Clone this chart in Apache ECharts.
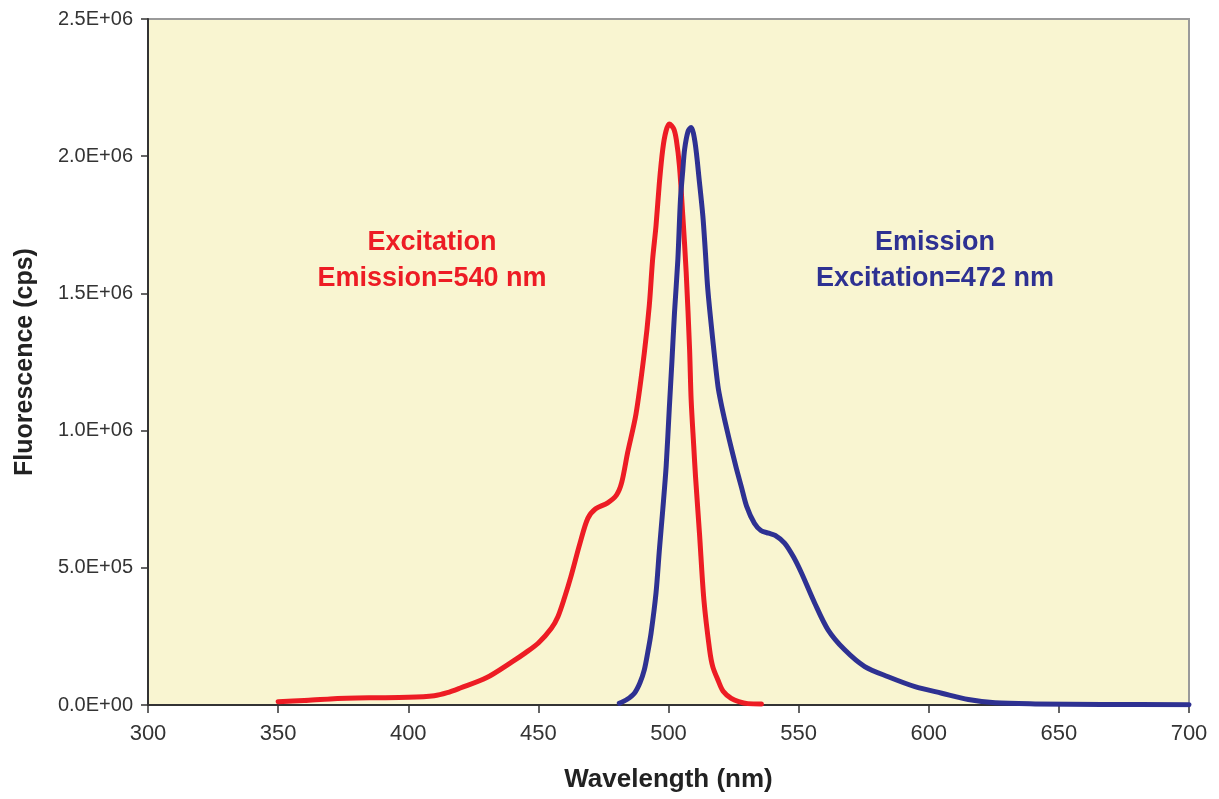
<!DOCTYPE html>
<html>
<head>
<meta charset="utf-8">
<script src="https://cdn.jsdelivr.net/npm/echarts@6/dist/echarts.min.js"></script>
<style>
html,body{margin:0;padding:0;background:#fff;}
#c{width:1219px;height:799px;}
</style>
</head>
<body>
<div id="c"></div>
<script>
// Excitation spectrum (emission monitored at 540 nm)
const excitationWavelength = [350,360,370,385,400,410,415,420,430,440,445,450,455,457.5,460,462.5,466,469,472,476.5,480,482,484.3,487.5,490.7,492.6,493.9,495.2,496.5,497.8,499,500.3,502,503,504.2,505.5,506.8,508.1,508.7,509.7,510.4,511.9,513.6,515.8,517,519,521,524.1,527,530.5,535.7];
const excitationValue = [12000,16000,22000,26000,28000,34000,45000,62000,99000,158000,190000,226000,280000,322000,390000,468000,590000,680000,715000,736000,765000,810000,920000,1060000,1283000,1454000,1624000,1746000,1904000,2026000,2090000,2117000,2100000,2060000,1965000,1782000,1576000,1296000,1113000,943000,830000,626000,383000,201000,140000,91000,50000,24000,12000,5000,4000];

// Emission spectrum (excitation at 472 nm)
const emissionWavelength = [481.1,484,486.9,489,490.7,492,493.3,495.2,496.5,497.8,499.1,500.3,501.3,502.3,503.6,504.6,505.5,506.2,507.5,508.7,510.2,511.9,513.2,514.1,515.1,517,519,520.2,521.8,523.4,526,528,530,533,535.5,538.5,541,544.6,548,551.1,556.2,561.3,567.7,575.4,584.4,594.7,605,615.2,625.5,640.9,666.6,700];
const emissionValue = [6000,20000,43000,80000,128000,190000,262000,408000,566000,712000,870000,1080000,1250000,1429000,1624000,1843000,1950000,2026000,2090000,2105000,2050000,1904000,1782000,1661000,1515000,1332000,1162000,1100000,1030000,965000,865000,795000,725000,662000,636000,626000,618000,590000,540000,481000,371000,274000,201000,140000,103000,67000,43000,20000,8000,4000,2000,1000];

const xTicks = {min:300, max:700, step:50};
const yTicks = {min:0, max:2500000, step:500000};

const annotations = [
  {lines:['Excitation','Emission=540 nm'], color:'#ED1C24', x:432},
  {lines:['Emission','Excitation=472 nm'], color:'#2E3192', x:935}
];

function pairs(xs, ys){ return xs.map((x,i)=>[x, ys[i]]); }
function sci(v){
  if (v === 0) return '0.0E+00';
  const e = Math.floor(Math.log10(v) + 1e-9);
  const m = v / Math.pow(10, e);
  return m.toFixed(1) + 'E+' + String(e).padStart(2,'0');
}

const chart = echarts.init(document.getElementById('c'), null, {renderer:'canvas'});
const FONT = '"Liberation Sans", Arial, sans-serif';

const graphics = [];
annotations.forEach(a=>{
  a.lines.forEach((t,i)=>{
    graphics.push({
      type:'text', x:a.x, y:243 + i*36, z:10,
      style:{text:t, fill:a.color, font:'bold 27px ' + FONT, textAlign:'center', textVerticalAlign:'middle'}
    });
  });
});

chart.setOption({
  animation:false,
  backgroundColor:'#ffffff',
  grid:{left:148, right:30, top:19, bottom:94, show:true, backgroundColor:'#F9F5D1', borderColor:'#9a9a9a', borderWidth:2, containLabel:false},
  xAxis:{
    type:'value', min:xTicks.min, max:xTicks.max, interval:xTicks.step,
    name:'Wavelength (nm)', nameLocation:'middle', nameGap:62,
    nameTextStyle:{fontFamily:FONT, fontWeight:'bold', fontSize:26, color:'#222'},
    axisLine:{show:true, onZero:false, lineStyle:{color:'#333', width:2}},
    axisTick:{show:true, length:8, lineStyle:{color:'#333', width:1.5}},
    axisLabel:{fontFamily:FONT, fontSize:22, color:'#333', margin:18},
    splitLine:{show:false}
  },
  yAxis:{
    type:'value', min:yTicks.min, max:yTicks.max, interval:yTicks.step,
    name:'Fluorescence (cps)', nameLocation:'middle', nameGap:110, nameRotate:90,
    nameTextStyle:{fontFamily:FONT, fontWeight:'bold', fontSize:25, color:'#222'},
    axisLine:{show:true, lineStyle:{color:'#333', width:2}},
    axisTick:{show:true, length:7, lineStyle:{color:'#333', width:1.5}},
    axisLabel:{fontFamily:FONT, fontSize:20, color:'#333', margin:15, formatter:sci},
    splitLine:{show:false}
  },
  series:[
    {name:'Excitation', type:'line', data:pairs(excitationWavelength, excitationValue), showSymbol:false, smooth:0.3,
     lineStyle:{color:'#ED1C24', width:5, cap:'round', join:'round'}, z:3},
    {name:'Emission', type:'line', data:pairs(emissionWavelength, emissionValue), showSymbol:false, smooth:0.3,
     lineStyle:{color:'#2E3192', width:5, cap:'round', join:'round'}, z:4}
  ],
  graphic:graphics
});
</script>
</body>
</html>
